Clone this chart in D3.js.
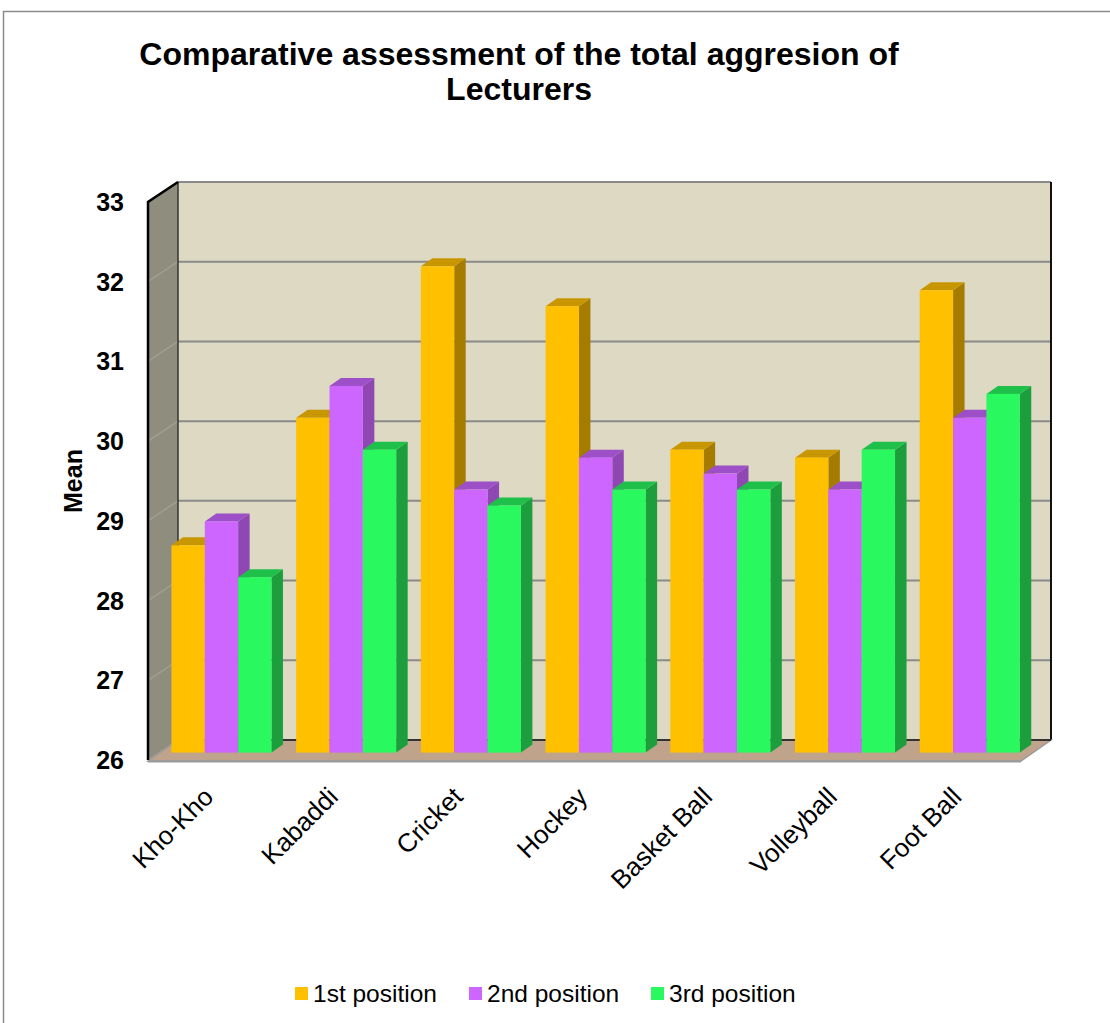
<!DOCTYPE html>
<html>
<head>
<meta charset="utf-8">
<script src="https://cdn.jsdelivr.net/npm/d3@7"></script>
<style>
  body { margin: 0; background: #fff; }
  text { font-family: "Liberation Sans", Arial, sans-serif; }
</style>
</head>
<body>
<div id="viz"></div>
<script>
const width = 1110;
const height = 1023;

// data
const sports = ["Kho-Kho", "Kabaddi", "Cricket", "Hockey", "Basket Ball", "Volleyball", "Foot Ball"];
const positions = ["1st position", "2nd position", "3rd position"];
const first = [28.6, 30.2, 32.1, 31.6, 29.8, 29.7, 31.8];
const second = [28.9, 30.6, 29.3, 29.7, 29.5, 29.3, 30.2];
const third = [28.2, 29.8, 29.1, 29.3, 29.3, 29.8, 30.5];
const yTicks = [26, 27, 28, 29, 30, 31, 32, 33];

const series = [first, second, third];
const front = ["#FFC000", "#CC66FF", "#29F85E"];
const side = ["#A67C00", "#8E47B3", "#1C9E3D"];
const top_ = ["#C89700", "#9D4FC8", "#1FC049"];

const svg = d3.select("#viz").append("svg")
    .attr("width", width)
    .attr("height", height);

// outer chart border
svg.append("rect")
    .attr("x", 3.5).attr("y", 11.5)
    .attr("width", 1130).attr("height", 1040)
    .attr("fill", "none")
    .attr("stroke", "#8c8c8c")
    .attr("stroke-width", 1.5);

// title
svg.append("text")
    .attr("x", 519).attr("y", 65)
    .attr("text-anchor", "middle")
    .style("font-size", "32px").style("font-weight", "bold")
    .text("Comparative assessment of the total aggresion of");
svg.append("text")
    .attr("x", 519).attr("y", 100)
    .attr("text-anchor", "middle")
    .style("font-size", "32px").style("font-weight", "bold")
    .text("Lecturers");

// 3d box geometry
const fx0 = 148, fx1 = 1021;   // front plane x
const dX = 30, dY = -20;       // depth offset
const yFront = d3.scaleLinear().domain([26, 33]).range([760, 202]);
const yBack = v => yFront(v) + dY;

// back wall
svg.append("rect")
    .attr("x", fx0 + dX).attr("y", yBack(33))
    .attr("width", fx1 - fx0).attr("height", yBack(26) - yBack(33))
    .attr("fill", "#DDD9C3");

// left wall
svg.append("polygon")
    .attr("points", [[fx0, yFront(33)], [fx0 + dX, yBack(33)], [fx0 + dX, yBack(26)], [fx0, yFront(26)]].join(" "))
    .attr("fill", "#8F8D7E");

// gridlines
yTicks.forEach(t => {
    svg.append("line")
        .attr("x1", fx0 + dX).attr("x2", fx1 + dX)
        .attr("y1", yBack(t)).attr("y2", yBack(t))
        .attr("stroke", "#8a8a8a").attr("stroke-width", 2);
    svg.append("line")
        .attr("x1", fx0).attr("x2", fx0 + dX)
        .attr("y1", yFront(t)).attr("y2", yBack(t))
        .attr("stroke", "#a09e94").attr("stroke-width", 1.5);
});

// back wall edges
svg.append("line")
    .attr("x1", fx1 + dX).attr("x2", fx1 + dX)
    .attr("y1", yBack(33)).attr("y2", yBack(26))
    .attr("stroke", "#111").attr("stroke-width", 2);
svg.append("line")
    .attr("x1", fx0 + dX).attr("x2", fx0 + dX)
    .attr("y1", yBack(33)).attr("y2", yBack(26))
    .attr("stroke", "#333").attr("stroke-width", 1.5);

// floor
svg.append("polygon")
    .attr("points", [[fx0, yFront(26) + 1], [fx0 + dX, yBack(26)], [fx1 + dX, yBack(26)], [fx1, yFront(26) + 1]].join(" "))
    .attr("fill", "#BFA38A")
    .attr("stroke", "#9a9a9a").attr("stroke-width", 1.5);
svg.append("line")
    .attr("x1", fx0 + dX).attr("x2", fx1 + dX)
    .attr("y1", yBack(26)).attr("y2", yBack(26))
    .attr("stroke", "#111").attr("stroke-width", 1.5);
svg.append("line")
    .attr("x1", fx0).attr("x2", fx1)
    .attr("y1", yFront(26) + 1.5).attr("y2", yFront(26) + 1.5)
    .attr("stroke", "#9a9a9a").attr("stroke-width", 2);

// left wall outline
svg.append("polyline")
    .attr("points", [[fx0, yFront(26)], [fx0, yFront(33)], [fx0 + dX, yBack(33)]].join(" "))
    .attr("fill", "none")
    .attr("stroke", "#000").attr("stroke-width", 2.5);

// bars, placed part way into the depth
const bd = 0.37;
const bx0 = fx0 + dX * bd, bx1 = fx1 + dX * bd;
const yBar = d3.scaleLinear().domain([26, 33]).range([yFront(26) + dY * bd, yFront(33) + dY * bd]);
const x0 = d3.scaleBand().domain(sports).range([bx0, bx1]).paddingInner(0.198).paddingOuter(0.099);
const x1 = d3.scaleBand().domain(d3.range(3)).range([0, x0.bandwidth()]);
const sdx = 11.5, sdy = -8;

const bars = [];
sports.forEach((s, i) => {
    series.forEach((arr, j) => {
        bars.push({ sport: s, pos: j, value: arr[i] });
    });
});

const barG = svg.append("g");
bars.forEach(d => {
    const x = x0(d.sport) + x1(d.pos);
    const w = x1.bandwidth();
    const yt = yBar(d.value), yb = yBar(26);
    const g = barG.append("g");
    g.append("polygon")
        .attr("points", [[x + w, yt], [x + w + sdx, yt + sdy], [x + w + sdx, yb + sdy], [x + w, yb]].join(" "))
        .attr("fill", side[d.pos]);
    g.append("polygon")
        .attr("points", [[x, yt], [x + sdx, yt + sdy], [x + w + sdx, yt + sdy], [x + w, yt]].join(" "))
        .attr("fill", top_[d.pos]);
    g.append("rect")
        .attr("x", x).attr("y", yt)
        .attr("width", w).attr("height", yb - yt)
        .attr("fill", front[d.pos]);
});

// y tick labels
svg.append("g").selectAll("text")
    .data(yTicks)
    .join("text")
    .attr("x", 124)
    .attr("y", d => yFront(d))
    .attr("dy", "0.36em")
    .attr("text-anchor", "end")
    .style("font-size", "25px").style("font-weight", "bold")
    .text(d => d);

// y axis title
svg.append("text")
    .attr("transform", "translate(82,481) rotate(-90)")
    .attr("text-anchor", "middle")
    .style("font-size", "25px").style("font-weight", "bold")
    .text("Mean");

// x labels
svg.append("g").selectAll("text")
    .data(sports)
    .join("text")
    .attr("transform", d => "translate(" + (x0(d) + x0.bandwidth() / 2 - 13) + ",792) rotate(-45)")
    .attr("text-anchor", "end")
    .attr("dy", "0.35em")
    .style("font-size", "26px")
    .text(d => d);

// legend
const legendX = [295, 469, 651];
const legend = svg.append("g");
positions.forEach((p, i) => {
    legend.append("rect")
        .attr("x", legendX[i]).attr("y", 987)
        .attr("width", 13).attr("height", 13)
        .attr("fill", front[i]);
    legend.append("text")
        .attr("x", legendX[i] + 18).attr("y", 1002)
        .style("font-size", "24.5px")
        .text(p);
});
</script>
</body>
</html>
